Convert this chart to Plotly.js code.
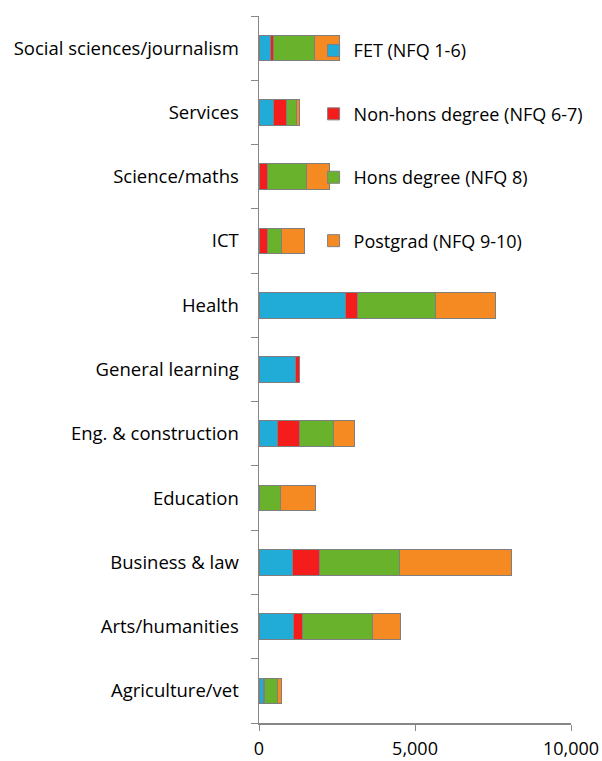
<!DOCTYPE html>
<html>
<head>
<meta charset="utf-8">
<script src="https://cdn.plot.ly/plotly-3.0.1.min.js"></script>
<style>html,body{margin:0;padding:0;background:#fff;}#chart{width:602px;height:761px;}</style>
</head>
<body>
<div id="chart"></div>
<script>
var categories = ["Agriculture/vet","Arts/humanities","Business & law","Education","Eng. & construction","General learning","Health","ICT","Science/maths","Services","Social sciences/journalism"];
var seriesNames = ["FET (NFQ 1-6)","Non-hons degree (NFQ 6-7)","Hons degree (NFQ 8)","Postgrad (NFQ 9-10)"];
var fet      = [160, 1120, 1080, 0,    595, 1155, 2760, 0,   0,    450, 370];
var nonHons  = [30,  260,  850,  0,    690, 130,  390,  280, 280,  430, 100];
var hons     = [390, 2265, 2580, 690,  1090, 0,   2520, 440, 1230, 320, 1300];
var postgrad = [130, 885,  3590, 1120, 700, 0,    1920, 735, 745,  90,  820];
var xTicks = [0, 5000, 10000];
var xTickText = ["0","5,000","10,000"];

var colors = ["#20acd6","#f51c1c","#68b22c","#f58a22"];
var data = [fet, nonHons, hons, postgrad].map(function(v,i){
  return {type:"bar", orientation:"h", y:categories, x:v, name:seriesNames[i],
    legendgroup:"g"+i,
    marker:{color:colors[i], line:{color:"#7f7f7f", width:1}}};
});
var layout = {
  width:602, height:761,
  margin:{l:259, r:31, t:16, b:38},
  barmode:"stack", bargap:0.6,
  font:{family:"'Open Sans', sans-serif", size:18.5, color:"#000"},
  paper_bgcolor:"#fff", plot_bgcolor:"#fff",
  xaxis:{range:[0,10000], tickvals:xTicks, ticktext:xTickText, showgrid:false, zeroline:false,
    showline:true, linecolor:"#868686", linewidth:1.5, ticks:"outside", ticklen:6, tickcolor:"#868686",
    tickfont:{size:18}, ticklabelstandoff:3},
  yaxis:{type:"category", showgrid:false, zeroline:false, showline:true, linecolor:"#868686", linewidth:1.5,
    ticks:"outside", tickson:"boundaries", ticklen:7, tickcolor:"#868686", ticklabelstandoff:15,
    tickfont:{size:18.5}},
  legend:{x:0.175, y:0.977, xanchor:"left", yanchor:"top", traceorder:"grouped", tracegroupgap:37,
    font:{size:18}, itemwidth:30, bgcolor:"rgba(0,0,0,0)"},
  showlegend:true
};
Plotly.newPlot("chart", data, layout, {displayModeBar:false, staticPlot:true});
</script>
</body>
</html>
